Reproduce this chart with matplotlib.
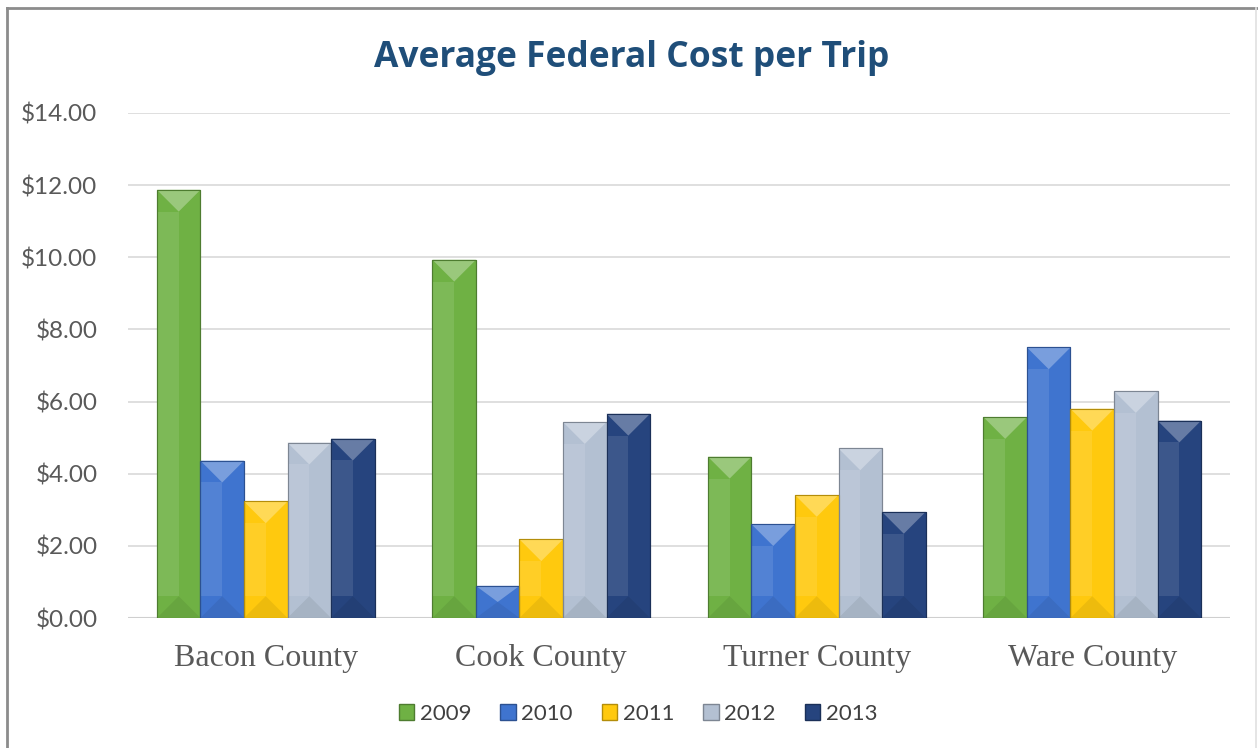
import matplotlib.pyplot as plt
import matplotlib.colors as mcolors
from matplotlib.patches import Polygon, Rectangle
import numpy as np

counties = ["Bacon County", "Cook County", "Turner County", "Ware County"]
years = ["2009", "2010", "2011", "2012", "2013"]
cost_2009 = [11.87, 9.93, 4.47, 5.57]
cost_2010 = [4.36, 0.89, 2.60, 7.50]
cost_2011 = [3.23, 2.18, 3.41, 5.80]
cost_2012 = [4.86, 5.43, 4.70, 6.29]
cost_2013 = [4.97, 5.66, 2.94, 5.47]
y_ticks = [0, 2, 4, 6, 8, 10, 12, 14]

series = [cost_2009, cost_2010, cost_2011, cost_2012, cost_2013]
colors = ["#6fb144", "#3f74cf", "#ffc90e", "#b3c0d2", "#26447e"]


def shade(c, f):
    # f > 0 lightens toward white, f < 0 darkens toward black
    r = np.array(mcolors.to_rgb(c))
    if f > 0:
        return tuple(r + (1 - r) * f)
    return tuple(r * (1 + f))


fig = plt.figure(figsize=(12.58, 7.48), dpi=100)
ax = fig.add_axes([128 / 1258, 1 - 618 / 748, 1102 / 1258, 505 / 748])
ax.set_xlim(-0.5, 3.5)
ax.set_ylim(0, 14)

x = np.arange(len(counties))
group = 0.79
w = group / len(years)
bars = []
for i, vals in enumerate(series):
    b = ax.bar(x - group / 2 + w * (i + 0.5), vals, w, color=colors[i],
               edgecolor=shade(colors[i], -0.25), linewidth=0.8, zorder=3)
    bars.append(b)

# bevel faces: pixel depth of half a bar width, converted to data units
fig.canvas.draw()
px_per_x = ax.transData.transform((1, 0))[0] - ax.transData.transform((0, 0))[0]
px_per_y = ax.transData.transform((0, 1))[1] - ax.transData.transform((0, 0))[1]
for i, b in enumerate(bars):
    c = colors[i]
    for r in b:
        x0, wd, h = r.get_x(), r.get_width(), r.get_height()
        x1, xc = x0 + wd, x0 + wd / 2
        d = min(wd * px_per_x / 2 / px_per_y, h / 2)
        ax.add_patch(Polygon([(x0, d), (xc, d), (xc, h - d), (x0, h - d)],
                             closed=True, color=shade(c, 0.10), lw=0, zorder=4))
        ax.add_patch(Polygon([(x0, h), (x1, h), (xc, h - d)],
                             closed=True, color=shade(c, 0.30), lw=0, zorder=4))
        ax.add_patch(Polygon([(x0, 0), (x1, 0), (xc, d)],
                             closed=True, color=shade(c, -0.07), lw=0, zorder=4))
        ax.add_patch(Rectangle((x0, 0), wd, h, fill=False,
                               ec=shade(c, -0.3), lw=0.8, zorder=5))

ax.set_yticks(y_ticks)
ax.set_yticklabels([f"${v:.2f}" for v in y_ticks], fontfamily="Lato",
                   fontsize=17.5, color="#595959")
ax.set_xticks(x)
ax.set_xticklabels(counties, fontfamily="Liberation Serif", fontsize=23,
                   color="#595959")
ax.tick_params(axis="both", length=0)
ax.tick_params(axis="y", pad=22)
ax.tick_params(axis="x", pad=19)
ax.grid(axis="y", color="#d9d9d9", linewidth=1.2, zorder=0)
for s in ax.spines.values():
    s.set_visible(False)
ax.axhline(0, color="#cfcfcf", linewidth=1.5, zorder=2)

fig.text(632 / 1258, 1 - 58 / 748, "Average Federal Cost per Trip",
         ha="center", va="center", fontfamily="Open Sans", fontweight="bold",
         fontsize=25.5, color="#1f4e79")

handles = [Rectangle((0, 0), 1, 1, fc=c, ec=shade(c, -0.3)) for c in colors]
fig.legend(handles, years, loc="center", bbox_to_anchor=(638 / 1258, 1 - 714 / 748),
           ncol=5, frameon=False, prop={"family": "Lato", "size": 16},
           handlelength=0.7, handleheight=0.7, handletextpad=0.25,
           columnspacing=1.3, labelcolor="#404040")

# outer frame
fig.add_artist(plt.Line2D([7 / 1258, 7 / 1258], [0, 1 - 8 / 748],
                          color="#8c8c8c", lw=2, transform=fig.transFigure))
fig.add_artist(plt.Line2D([7 / 1258, 1], [1 - 8 / 748, 1 - 8 / 748],
                          color="#8c8c8c", lw=2, transform=fig.transFigure))
fig.add_artist(plt.Line2D([1256 / 1258, 1256 / 1258], [0, 1 - 8 / 748],
                          color="#e0e0e0", lw=1.2, transform=fig.transFigure))

fig.savefig("out.png", dpi=100)
